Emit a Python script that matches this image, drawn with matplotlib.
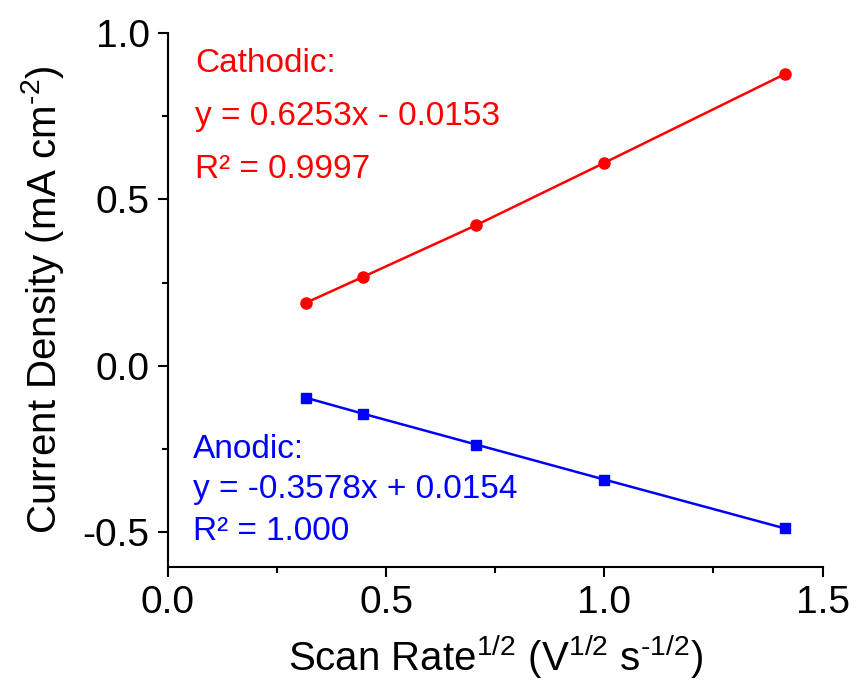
import numpy as np
import matplotlib.pyplot as plt
from matplotlib.ticker import MultipleLocator

plt.rcParams['font.family'] = ['Liberation Sans', 'DejaVu Sans']
plt.rcParams['mathtext.default'] = 'regular'
plt.rcParams['axes.unicode_minus'] = False

# sqrt of scan rate (V^1/2 s^-1/2)
scan_rate_sqrt = [0.316, 0.447, 0.707, 1.000, 1.414]
# current densities (mA cm^-2)
cathodic = [0.189, 0.267, 0.423, 0.610, 0.877]
anodic = [-0.096, -0.144, -0.237, -0.342, -0.489]

cathodic_text = ["Cathodic:", "y = 0.6253x - 0.0153", "R² = 0.9997"]
anodic_text = ["Anodic:", "y = -0.3578x + 0.0154", "R² = 1.000"]

fig = plt.figure(figsize=(8.56, 6.89), dpi=100)
ax = fig.add_axes([0.196, 0.177, 0.765, 0.775])

ax.plot(scan_rate_sqrt, cathodic, color='red', lw=1.8, marker='o', ms=8)
ax.plot(scan_rate_sqrt, anodic, color='blue', lw=1.8, marker='s', ms=7)

# annotations
for txt, yy in zip(cathodic_text, [0.91, 0.748, 0.589]):
    ax.text(0.062, yy, txt, color='red', fontsize=24, va='center', ha='left')
for txt, yy in zip(anodic_text, [-0.252, -0.372, -0.498]):
    ax.text(0.058, yy, txt, color='blue', fontsize=24, va='center', ha='left')

ax.set_xlim(0, 1.5)
ax.set_ylim(-0.605, 1.0)
ax.xaxis.set_major_locator(MultipleLocator(0.5))
ax.xaxis.set_minor_locator(MultipleLocator(0.25))
ax.yaxis.set_major_locator(MultipleLocator(0.5))
ax.yaxis.set_minor_locator(MultipleLocator(0.25))

for s in ['top', 'right']:
    ax.spines[s].set_visible(False)
for s in ['left', 'bottom']:
    ax.spines[s].set_linewidth(1.5)

ax.tick_params(which='major', direction='out', length=7, width=1.5, labelsize=28, pad=6)
ax.tick_params(which='minor', direction='out', length=4, width=1.5)

# hyphen (U+2010) keeps the superscript minus short like in the original
ax.set_xlabel('Scan Rate$^{1/2}$ (V$^{1/2}$ s$^{\u20101/2}$)', fontsize=29, labelpad=8)
ax.set_ylabel('Current Density (mA cm$^{\u20102}$)', fontsize=29, labelpad=12)

fig.savefig('out.png', dpi=100)
